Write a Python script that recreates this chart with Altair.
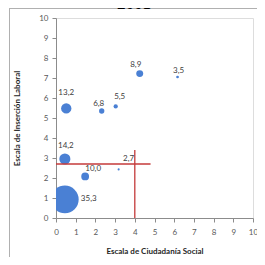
import altair as alt
import pandas as pd

# Bubble data
ciudadania = [0.45, 0.45, 0.52, 1.48, 2.32, 3.03, 3.18, 4.25, 6.17]
insercion = [0.93, 2.95, 5.48, 2.08, 5.35, 5.58, 2.43, 7.22, 7.05]
porcentaje = [35.3, 14.2, 13.2, 10.0, 6.8, 5.5, 2.7, 8.9, 3.5]

# Threshold (red) lines
umbral_x = [4.0]
umbral_x_alto = [3.4]
umbral_y = [2.7]
umbral_y_largo = [4.8]

titulo = "2001"
x_titulo = "Escala de Ciudadanía Social"
y_titulo = "Escala de Inserción Laboral"
ticks = [0, 1, 2, 3, 4, 5, 6, 7, 8, 9, 10]

df = pd.DataFrame({"x": ciudadania, "y": insercion, "v": porcentaje})
df["label"] = [f"{v:.1f}".replace(".", ",") for v in porcentaje]

vline = pd.DataFrame({"x": umbral_x, "y": [0.0], "y2": umbral_x_alto})
hline = pd.DataFrame({"y": umbral_y, "x": [0.0], "x2": umbral_y_largo})

FONT = "Lato"
BLUE = "#4A80D4"
RED = "#C43A3A"

xscale = alt.Scale(domain=[0, 10], nice=False, zero=True)
yscale = alt.Scale(domain=[0, 10], nice=False, zero=True)

common = dict(values=ticks, tickCount=11, tickMinStep=1, labelOverlap=False,
              grid=False, domainColor="#8C8C8C", tickColor="#8C8C8C", tickSize=4,
              labelFont=FONT, labelFontSize=8, labelColor="#595959",
              titleFont=FONT, titleFontSize=8, titleFontWeight="bold",
              titleColor="#262626", labelFlush=False)
xaxis = alt.Axis(title=x_titulo, labelPadding=6, titlePadding=11, **common)
yaxis = alt.Axis(title=y_titulo, labelPadding=4, titlePadding=17, **common)

base = alt.Chart(df)

bubbles = base.mark_circle(color=BLUE, opacity=1, clip=True).encode(
    x=alt.X("x:Q", scale=xscale, axis=xaxis),
    y=alt.Y("y:Q", scale=yscale, axis=yaxis),
    size=alt.Size("v:Q", scale=alt.Scale(type="pow", exponent=2, domain=[0, 35.3],
                                          range=[0, 760]), legend=None),
)

rule_v = alt.Chart(vline).mark_rule(color=RED, strokeWidth=1.3).encode(
    x=alt.X("x:Q"), y=alt.Y("y:Q"), y2="y2:Q")
rule_h = alt.Chart(hline).mark_rule(color=RED, strokeWidth=1.3).encode(
    y=alt.Y("y:Q"), x=alt.X("x:Q"), x2="x2:Q")

# label placement style per bubble
label_style = {
    "35,3": ("left", 16, 0),
    "14,2": ("center", 1, -13),
    "13,2": ("center", 0, -15),
    "10,0": ("center", 8, -7),
    "6,8": ("center", -3, -7),
    "5,5": ("center", 4, -9),
    "2,7": ("center", 10, -10),
    "8,9": ("center", -4, -9),
    "3,5": ("center", 1, -6),
}
labels = []
for lab, (al, dx, dy) in label_style.items():
    labels.append(
        base.transform_filter(alt.datum.label == lab).mark_text(
            align=al, baseline="middle", dx=dx, dy=dy, font=FONT, fontSize=8,
            color="#404040").encode(
            x=alt.X("x:Q"), y=alt.Y("y:Q"), text="label:N")
    )

frame = alt.Chart(df).mark_rect(fill=None, stroke="#B0B0B0", strokeWidth=1).encode(
    x=alt.value(-46.5), x2=alt.value(260), y=alt.value(-9.5), y2=alt.value(260))

title_txt = alt.Chart(pd.DataFrame({"t": [titulo]})).mark_text(
    font="Liberation Serif", fontSize=17, fontWeight="bold", color="#000000",
    align="center", baseline="alphabetic").encode(
    x=alt.value(78), y=alt.value(-9), text="t:N")

chart = alt.layer(bubbles, rule_v, rule_h, *labels, frame, title_txt).properties(
    width=197, height=200,
    autosize=alt.AutoSizeParams(type="none"),
    padding={"left": 48, "top": 10, "right": 4, "bottom": 39},
).configure_view(stroke=None).configure(background="white")

chart.save("out.html", embed_options={"renderer": "svg", "actions": False})
